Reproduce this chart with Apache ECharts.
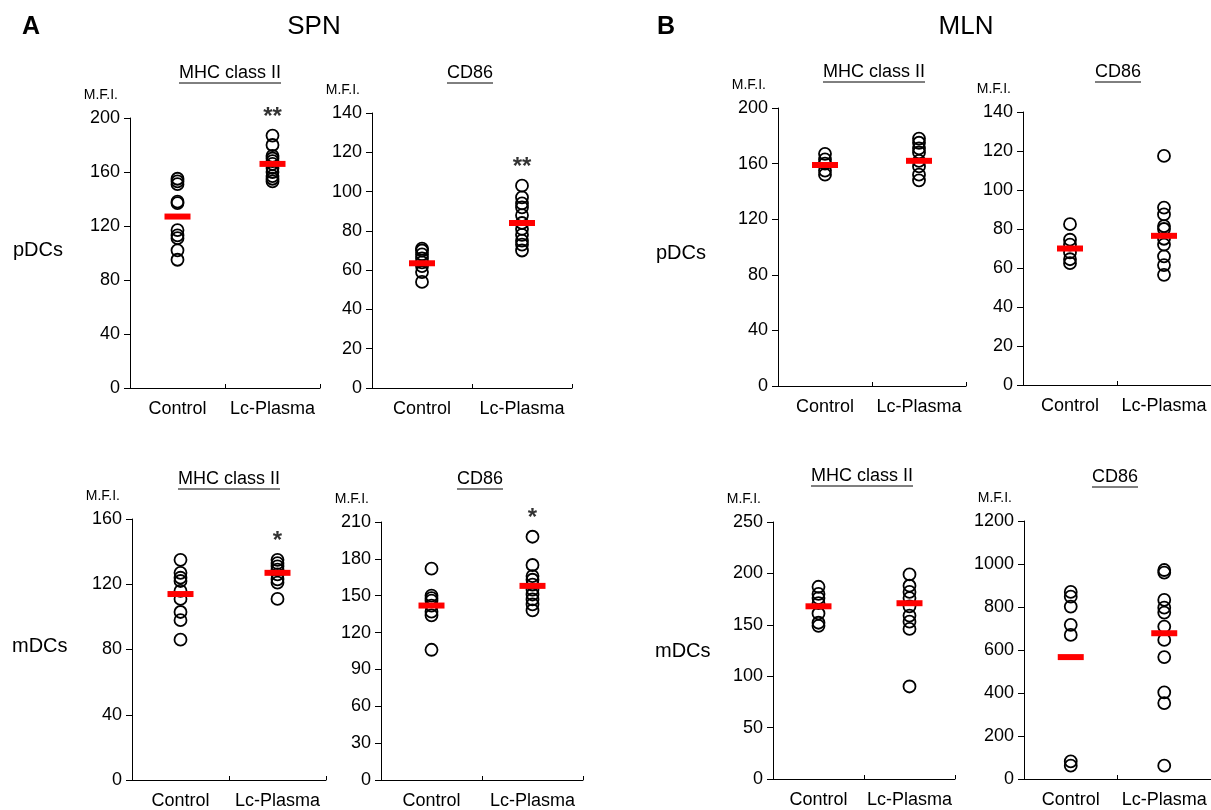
<!DOCTYPE html>
<html><head><meta charset="utf-8">
<script src="https://cdn.jsdelivr.net/npm/echarts@6/dist/echarts.min.js"></script>
<style>html,body{margin:0;padding:0;background:#fff}#c{width:1211px;height:810px}</style>
</head><body><div id="c"></div>
<script>
// ---- data ----
const categories = ['Control', 'Lc-Plasma'];

const spnPdcMhcControl = [155, 153, 151, 138, 137, 117, 113, 111, 102, 95];
const spnPdcMhcLc      = [187, 180, 172, 170, 168, 166, 163, 160, 157, 155, 153];
const spnPdcMhcMean    = [127, 166];

const spnPdcCd86Control = [71, 70, 68, 66, 64, 62, 59, 54];
const spnPdcCd86Lc      = [103, 97, 94, 92, 88, 84, 81, 78, 75, 73, 70];
const spnPdcCd86Mean    = [63.5, 84];

const spnMdcMhcControl = [135, 127, 124, 122, 116, 111, 103, 98, 86];
const spnMdcMhcLc      = [135, 133, 131, 129, 126, 123, 121, 111];
const spnMdcMhcMean    = [114, 127];

const spnMdcCd86Control = [172, 150, 148, 146, 142, 137, 134, 106];
const spnMdcCd86Lc      = [198, 175, 166, 163, 159, 155, 151, 147, 143, 138];
const spnMdcCd86Mean    = [142, 158];

const mlnPdcMhcControl = [167, 163, 160, 155, 152];
const mlnPdcMhcLc      = [178, 175, 171, 168, 162, 158, 152, 148];
const mlnPdcMhcMean    = [159, 162];

const mlnPdcCd86Control = [82.5, 74.5, 72, 68, 64.5, 62.5];
const mlnPdcCd86Lc      = [117.5, 91, 87.5, 81.5, 80, 75, 72, 66, 61.5, 56.5];
const mlnPdcCd86Mean    = [70, 76.5];

const mlnMdcMhcControl = [187, 180, 176, 171, 161, 152, 149];
const mlnMdcMhcLc      = [199, 188, 182, 176, 168, 159, 153, 146, 90];
const mlnMdcMhcMean    = [168, 171];

const mlnMdcCd86Control = [870, 848, 802, 717, 670, 82, 62];
const mlnMdcCd86Lc      = [972, 960, 833, 797, 774, 709, 647, 567, 403, 353, 62];
const mlnMdcCd86Mean    = [567, 678];

const yMaxes     = [200, 140, 160, 210, 200, 140, 250, 1200];
const yIntervals = [40, 20, 40, 30, 40, 20, 50, 200];
const panelTitles = ['MHC class II', 'CD86', 'MHC class II', 'CD86', 'MHC class II', 'CD86', 'MHC class II', 'CD86'];
const sigMarks = ['**', '**', '*', '*', '', '', '', ''];
const yName = 'M.F.I.';

const panelData = [
  [spnPdcMhcControl, spnPdcMhcLc, spnPdcMhcMean],
  [spnPdcCd86Control, spnPdcCd86Lc, spnPdcCd86Mean],
  [spnMdcMhcControl, spnMdcMhcLc, spnMdcMhcMean],
  [spnMdcCd86Control, spnMdcCd86Lc, spnMdcCd86Mean],
  [mlnPdcMhcControl, mlnPdcMhcLc, mlnPdcMhcMean],
  [mlnPdcCd86Control, mlnPdcCd86Lc, mlnPdcCd86Mean],
  [mlnMdcMhcControl, mlnMdcMhcLc, mlnMdcMhcMean],
  [mlnMdcCd86Control, mlnMdcCd86Lc, mlnMdcCd86Mean]
];

// ---- layout ----
const FONT = '"Liberation Sans", Arial, sans-serif';
const grids = [
  {left: 130, top: 118, width: 190, height: 270},
  {left: 372, top: 113, width: 200, height: 275},
  {left: 132, top: 519, width: 194, height: 265},
  {left: 381, top: 522, width: 202, height: 262},
  {left: 778, top: 108, width: 188, height: 278},
  {left: 1023, top: 112, width: 198, height: 273},
  {left: 773, top: 522, width: 182, height: 257},
  {left: 1024, top: 521, width: 194, height: 258}
];
const titlePos = [[230, 73], [470, 73], [229, 479], [480, 479], [874, 72], [1118, 72], [862, 476], [1115, 477]];

const chart = echarts.init(document.getElementById('c'), null, {renderer: 'canvas'});

const xAxes = [], yAxes = [], series = [];
panelData.forEach((pd, i) => {
  xAxes.push({
    type: 'category', gridIndex: i, data: categories, boundaryGap: true,
    axisLine: {lineStyle: {color: '#000', width: 1}},
    axisTick: {show: true, inside: true, length: 4, lineStyle: {color: '#000'}},
    axisLabel: {color: '#000', fontSize: 18, fontFamily: FONT, margin: 12, interval: 0},
    splitLine: {show: false}
  });
  yAxes.push({
    type: 'value', gridIndex: i, min: 0, max: yMaxes[i], interval: yIntervals[i],
    axisLine: {show: true, lineStyle: {color: '#000', width: 1}},
    axisTick: {show: true, length: 6, lineStyle: {color: '#000'}},
    axisLabel: {color: '#000', fontSize: 18, fontFamily: FONT, margin: 10,
      formatter: v => String(v)},
    splitLine: {show: false},
    name: yName, nameLocation: 'end', nameGap: 16,
    nameTextStyle: {color: '#000', fontSize: 14, fontFamily: FONT, align: 'right', padding: [0, 12, 0, 0]}
  });
  const pts = pd[0].map(v => [0, v]).concat(pd[1].map(v => [1, v]));
  series.push({
    type: 'scatter', xAxisIndex: i, yAxisIndex: i, data: pts,
    symbol: 'circle', symbolSize: 12,
    itemStyle: {color: 'rgba(255,255,255,0)', borderColor: '#000', borderWidth: 1.8, opacity: 1},
    z: 2, silent: true
  });
  series.push({
    type: 'scatter', xAxisIndex: i, yAxisIndex: i,
    data: pd[2].map((v, k) => [k, v]),
    symbol: 'rect', symbolSize: [26, 6],
    itemStyle: {color: '#ff0000', opacity: 1}, z: 3, silent: true
  });
  if (sigMarks[i]) {
    series.push({
      type: 'scatter', xAxisIndex: i, yAxisIndex: i,
      data: [[1, Math.max.apply(null, pd[1])]],
      symbolSize: 12, itemStyle: {color: 'rgba(0,0,0,0)'},
      label: {show: true, position: 'top', distance: 0, formatter: sigMarks[i],
        color: '#000', fontSize: 24, fontWeight: 'bold', fontFamily: FONT},
      z: 4, silent: true
    });
  }
});

const measure = document.createElement('canvas').getContext('2d');
measure.font = '18px ' + FONT;

const graphics = [];
function txt(t, x, y, size, opts) {
  opts = opts || {};
  graphics.push({type: 'text', x: x, y: y, silent: true, style: {
    text: t, fill: '#000', font: (opts.bold ? 'bold ' : '') + size + 'px ' + FONT,
    textAlign: opts.align || 'left', textVerticalAlign: 'middle'
  }});
}
txt('A', 22, 27, 25, {bold: true});
txt('B', 657, 27, 25, {bold: true});
txt('SPN', 314, 27, 26, {align: 'center'});
txt('MLN', 966, 27, 26, {align: 'center'});
txt('pDCs', 13, 250, 20);
txt('mDCs', 12, 646, 20);
txt('pDCs', 656, 253, 20);
txt('mDCs', 655, 651, 20);
panelTitles.forEach((t, i) => {
  const [cx, cy] = titlePos[i];
  txt(t, cx, cy, 18, {align: 'center'});
  const w = measure.measureText(t).width;
  graphics.push({type: 'line', silent: true,
    shape: {x1: cx - w / 2, y1: cy + 10, x2: cx + w / 2, y2: cy + 10},
    style: {stroke: '#000', lineWidth: 1}});
});

chart.setOption({
  animation: false,
  backgroundColor: '#fff',
  grid: grids,
  xAxis: xAxes,
  yAxis: yAxes,
  series: series,
  graphic: graphics
});
</script>
</body></html>
